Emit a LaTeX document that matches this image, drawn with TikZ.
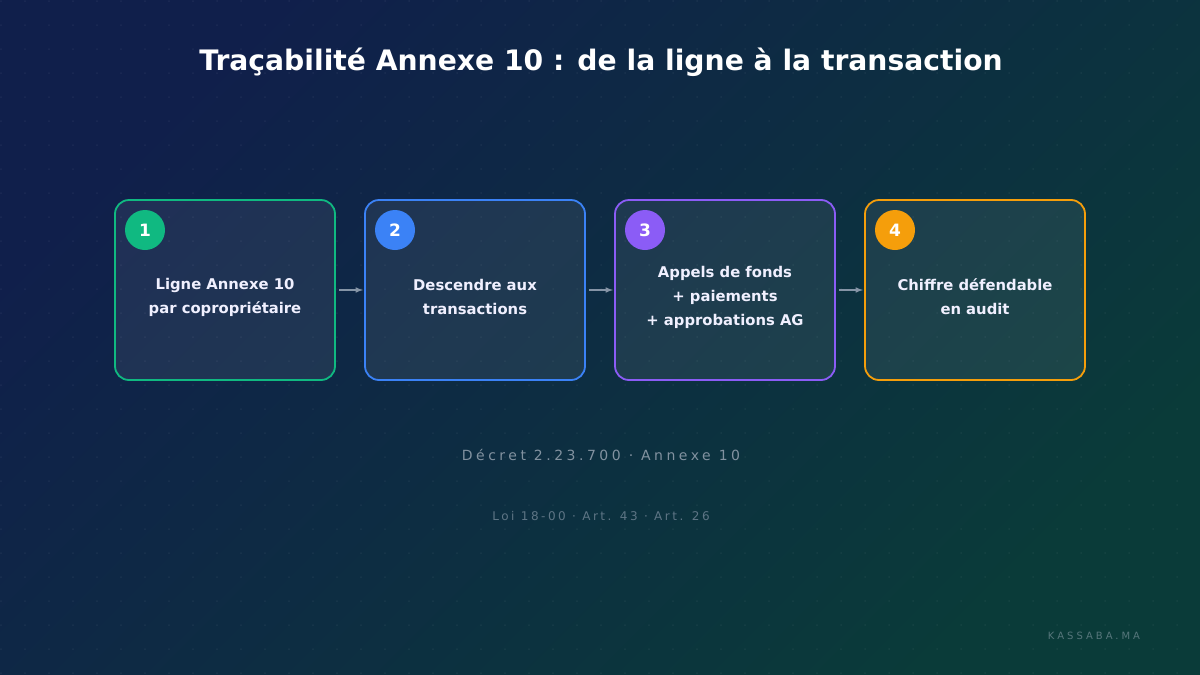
\documentclass[tikz,border=0pt]{standalone}
\usepackage{fontspec}
\setmainfont{DejaVu Sans}
\newfontfamily\refsfont[LetterSpace=25]{DejaVu Sans}
\newfontfamily\lawfont[LetterSpace=21]{DejaVu Sans}
\newfontfamily\brandfont[LetterSpace=30]{DejaVu Sans}
\usetikzlibrary{positioning}
\tikzset{>=latex}
\definecolor{bgtop}{HTML}{101F4B}
\definecolor{bgbottom}{HTML}{0A3B39}
\definecolor{stepgreen}{HTML}{10B981}
\definecolor{stepblue}{HTML}{3B82F6}
\definecolor{steppurple}{HTML}{8B5CF6}
\definecolor{steporange}{HTML}{F59E0B}
\definecolor{arrowgray}{HTML}{8594A6}
\definecolor{refgray}{HTML}{8292A0}
\definecolor{lawgray}{HTML}{5E7585}
\definecolor{brandgray}{HTML}{56767B}
\tikzset{
  card/.style={draw=#1, line width=1.8pt, rounded corners=14pt, fill=white,
    fill opacity=0.07, minimum width=220pt, minimum height=180pt, outer sep=0pt},
  steptext/.style={align=center, text=white!94!blue,
    font=\bfseries\fontsize{14.8}{24}\selectfont},
  badge/.style={circle, fill=#1, minimum size=40pt, inner sep=0pt, text=white,
    font=\bfseries\fontsize{17}{20}\selectfont},
  flow/.style={->, arrowgray, line width=1.5pt, shorten <=4pt, shorten >=2pt}
}
\begin{document}
\begin{tikzpicture}[x=1pt,y=-1pt]
  \useasboundingbox (0,0) rectangle (1200,675);
  \shade[top color=bgtop, bottom color=bgbottom, shading angle=45]
    (0,0) rectangle (1200,675);
  \foreach \i in {0,...,49}
    \foreach \j in {0,...,28}
      \fill[white, opacity=0.05] (\i*24+1,\j*24+1) circle (1pt);

  \node[font=\bfseries\fontsize{28.2}{34}\selectfont, text=white] (title)
    at (601,62) {Traçabilité Annexe 10 : de la ligne à la transaction};

  \node[card=stepgreen] (step1) at (225,290) {};
  \node[card=stepblue, right=30pt of step1] (step2) {};
  \node[card=steppurple, right=30pt of step2] (step3) {};
  \node[card=steporange, right=30pt of step3] (step4) {};

  \foreach \n/\c in {1/stepgreen,2/stepblue,3/steppurple,4/steporange}
    \node[badge=\c] (badge\n) at ([xshift=30pt,yshift=-30pt]step\n.north west) {\n};

  \node[steptext] (text1) at ([yshift=-7pt]step1.center)
    {Ligne Annexe 10\\par copropriétaire};
  \node[steptext] (text2) at ([yshift=-7pt]step2.center)
    {Descendre aux\\transactions};
  \node[steptext] (text3) at ([yshift=-7pt]step3.center)
    {Appels de fonds\\+ paiements\\+ approbations AG};
  \node[steptext] (text4) at ([yshift=-7pt]step4.center)
    {Chiffre défendable\\en audit};

  \draw[flow] (step1) -- (step2);
  \draw[flow] (step2) -- (step3);
  \draw[flow] (step3) -- (step4);

  \node[text=refgray, font=\refsfont\fontsize{14}{16}\selectfont] (refs)
    at (601,455) {Décret 2.23.700 · Annexe 10};
  \node[text=lawgray, font=\lawfont\fontsize{12}{14}\selectfont] (laws)
    at (601,516) {Loi 18-00 · Art. 43 · Art. 26};
  \node[text=brandgray, font=\brandfont\fontsize{10}{12}\selectfont] (brand)
    at (1094,636) {KASSABA.MA};
\end{tikzpicture}
\end{document}
